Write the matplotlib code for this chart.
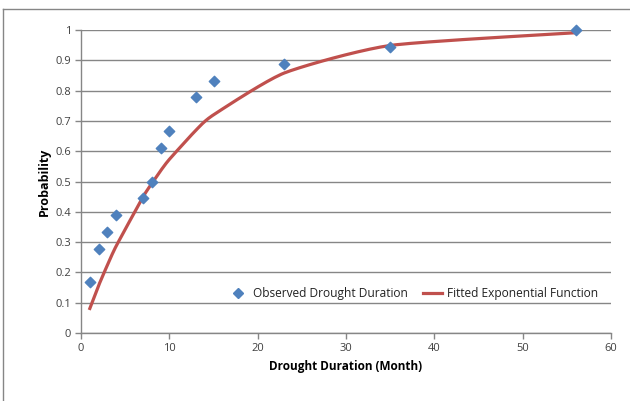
import matplotlib
matplotlib.use("Agg")
import matplotlib.pyplot as plt
import numpy as np
from matplotlib.lines import Line2D

# Data
duration = [1, 2, 3, 4, 7, 8, 9, 10, 13, 15, 23, 35, 56]
observed = [0.167, 0.278, 0.333, 0.389, 0.444, 0.5, 0.611, 0.667, 0.778, 0.833, 0.889, 0.944, 1.0]
fitted = [0.081, 0.157, 0.225, 0.288, 0.448, 0.493, 0.535, 0.573, 0.669, 0.720, 0.858, 0.949, 0.991]
xticks = [0, 10, 20, 30, 40, 50, 60]
yticks = [0, 0.1, 0.2, 0.3, 0.4, 0.5, 0.6, 0.7, 0.8, 0.9, 1]

plt.rcParams['font.family'] = ['Open Sans', 'DejaVu Sans']

def smooth(xs, ys, n=20):
    # Catmull-Rom style smoothing (like Excel smoothed line) for rendering
    xs = np.asarray(xs, float); ys = np.asarray(ys, float)
    px = np.concatenate([[xs[0]], xs, [xs[-1]]])
    py = np.concatenate([[ys[0]], ys, [ys[-1]]])
    ox, oy = [], []
    for i in range(1, len(px) - 2):
        p0, p1, p2, p3 = (px[i-1], py[i-1]), (px[i], py[i]), (px[i+1], py[i+1]), (px[i+2], py[i+2])
        t = np.linspace(0, 1, n, endpoint=False)
        for a, out in ((0, ox), (1, oy)):
            c0, c1, c2, c3 = p0[a], p1[a], p2[a], p3[a]
            m1 = (c2 - c0) / 2 * 0.6
            m2 = (c3 - c1) / 2 * 0.6
            h00 = 2*t**3 - 3*t**2 + 1
            h10 = t**3 - 2*t**2 + t
            h01 = -2*t**3 + 3*t**2
            h11 = t**3 - t**2
            out.extend(h00*c1 + h10*m1 + h01*c2 + h11*m2)
    ox.append(xs[-1]); oy.append(ys[-1])
    return np.array(ox), np.array(oy)

fig = plt.figure(figsize=(6.30, 4.01), dpi=100)
ax = fig.add_axes([81/630, 1 - 333/401, (611 - 81)/630, (333 - 30)/401])

grid_c = '#868686'
ax.set_xlim(0, 60)
ax.set_ylim(0, 1)
ax.set_xticks(xticks)
ax.set_yticks(yticks)
ax.set_yticklabels(['0', '0.1', '0.2', '0.3', '0.4', '0.5', '0.6', '0.7', '0.8', '0.9', '1'])
ax.yaxis.grid(True, color=grid_c, linewidth=1)
ax.set_axisbelow(True)
for s in ['top', 'right']:
    ax.spines[s].set_visible(False)
for s in ['left', 'bottom']:
    ax.spines[s].set_color(grid_c)
    ax.spines[s].set_linewidth(1)
ax.tick_params(axis='both', colors=grid_c, labelcolor='#404040', labelsize=8, length=4, width=1)
ax.tick_params(axis='y', pad=3)

sx, sy = smooth(duration, fitted)
ax.plot(sx, sy, color='#C0504D', linewidth=2.3, zorder=3, clip_on=False)
ax.scatter(duration, observed, marker='D', s=28, color='#4F81BD', zorder=4, clip_on=False)

ax.set_xlabel('Drought Duration (Month)', fontsize=8.5, fontweight='bold', labelpad=4)
ax.set_ylabel('Probability', fontsize=9, fontweight='bold', labelpad=3)

handles = [Line2D([], [], marker='D', linestyle='none', color='#4F81BD', markersize=5.5),
           Line2D([], [], color='#C0504D', linewidth=2.3)]
ax.legend(handles, ['Observed Drought Duration', 'Fitted Exponential Function'],
          loc='center', bbox_to_anchor=(0.627, 0.13), ncol=2, frameon=False,
          fontsize=8.6, handlelength=1.6, handletextpad=0.4, columnspacing=1.3,
          labelcolor='#222222')

# outer chart border (top and left visible)
fig.add_artist(Line2D([3/630, 1], [1 - 9/401, 1 - 9/401], color=grid_c, linewidth=1, transform=fig.transFigure))
fig.add_artist(Line2D([3/630, 3/630], [0, 1 - 9/401], color=grid_c, linewidth=1, transform=fig.transFigure))

fig.savefig('out.png', dpi=100)
